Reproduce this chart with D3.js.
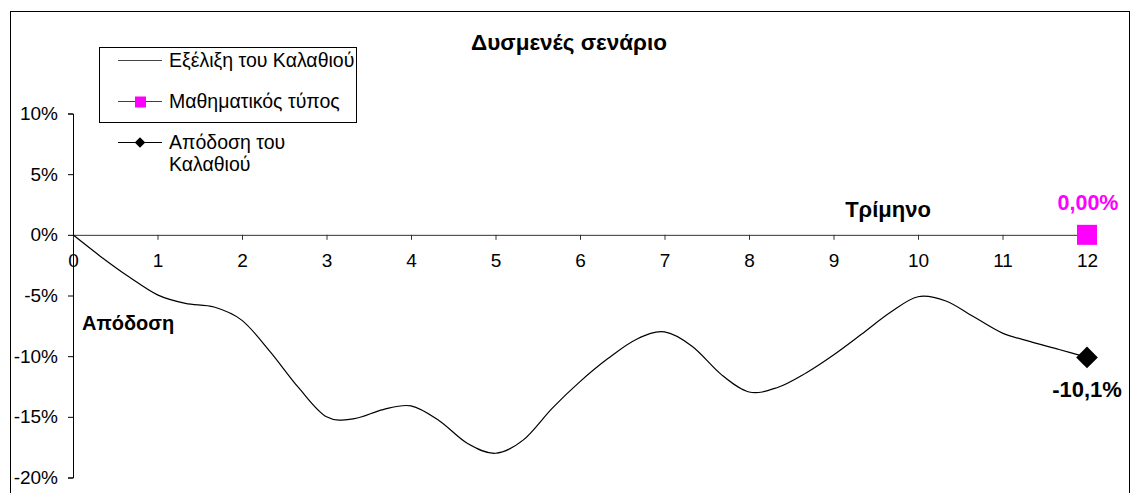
<!DOCTYPE html>
<html>
<head>
<meta charset="utf-8">
<script src="https://cdn.jsdelivr.net/npm/d3@7"></script>
<style>
  body { margin: 0; background: #fff; }
  text { font-family: "Liberation Sans", Arial, sans-serif; }
</style>
</head>
<body>
<div id="chart"></div>
<script>
// chart values
var quarters = [0, 0.33, 0.67, 1, 1.33, 1.67, 2, 2.33, 2.67, 3, 3.33, 3.67, 4, 4.33, 4.67, 5,
  5.33, 5.67, 6, 6.33, 6.67, 7, 7.33, 7.67, 8, 8.33, 8.67, 9, 9.33, 9.67, 10,
  10.33, 10.67, 11, 11.33, 11.67, 12];
var basketReturn = [0, -0.018, -0.035, -0.0495, -0.0565, -0.0595, -0.0705, -0.096, -0.126, -0.150, -0.1515, -0.144, -0.141, -0.153, -0.172, -0.180,
  -0.169, -0.143, -0.121, -0.102, -0.086, -0.080, -0.092, -0.115, -0.1295, -0.126, -0.114, -0.099, -0.082, -0.064, -0.051,
  -0.0545, -0.068, -0.081, -0.088, -0.0945, -0.101];
var xTicks = [0, 1, 2, 3, 4, 5, 6, 7, 8, 9, 10, 11, 12];
var yTicks = [-0.20, -0.15, -0.10, -0.05, 0, 0.05, 0.10];
var formulaPoint = { q: 12, v: 0.0, label: "0,00%" };
var finalPoint = { q: 12, v: -0.101, label: "-10,1%" };
var legendNames = ["Εξέλιξη του Καλαθιού", "Μαθηματικός τύπος", "Απόδοση του Καλαθιού"];

var svgWidth = 1131;
var svgHeight = 493;

var svg = d3.select("#chart")
  .append("svg")
  .attr("width", svgWidth)
  .attr("height", svgHeight);

// outer chart area border
svg.append("rect")
  .attr("x", 10.5).attr("y", 11.5)
  .attr("width", 1119).attr("height", 500)
  .attr("fill", "none").attr("stroke", "#000").attr("stroke-width", 1);

var x = d3.scaleLinear().domain([0, 12]).range([73, 1087]);
var y = d3.scaleLinear().domain([-0.2, 0.1]).range([477.5, 113.5]);

// y axis
var leftAxis = d3.axisLeft(y)
  .tickValues(yTicks)
  .tickSize(5)
  .tickPadding(10)
  .tickFormat(d => Math.round(d * 100) + "%");
var gy = svg.append("g")
  .attr("transform", `translate(${x(0)},0)`)
  .call(leftAxis);
gy.select(".domain").attr("stroke", "#000");
gy.selectAll("text").attr("font-size", 19).attr("fill", "#000")
  .attr("font-family", "Liberation Sans, Arial, sans-serif");

// x axis crossing at 0%
var bottomAxis = d3.axisBottom(x)
  .tickValues(xTicks)
  .tickSize(5)
  .tickSizeOuter(0)
  .tickPadding(14);
var gx = svg.append("g")
  .attr("transform", `translate(0,${y(0)})`)
  .call(bottomAxis);
gx.select(".domain").attr("stroke", "#333");
gx.selectAll("line").attr("stroke", "#333");
gx.selectAll("text").attr("font-size", 19).attr("fill", "#000")
  .attr("font-family", "Liberation Sans, Arial, sans-serif");

// basket curve
var line = d3.line()
  .x((d, i) => x(quarters[i]))
  .y(d => y(d))
  .curve(d3.curveCatmullRom.alpha(0));
svg.append("path")
  .datum(basketReturn)
  .attr("d", line)
  .attr("fill", "none")
  .attr("stroke", "#000")
  .attr("stroke-width", 1.2);

// formula point (magenta square)
svg.append("rect")
  .attr("x", x(formulaPoint.q) - 10).attr("y", y(formulaPoint.v) - 10)
  .attr("width", 20).attr("height", 20)
  .attr("fill", "#ff00ff");
svg.append("text")
  .attr("x", x(formulaPoint.q) + 1).attr("y", y(formulaPoint.v) - 25)
  .attr("text-anchor", "middle")
  .attr("font-size", 21.5).attr("font-weight", "bold").attr("fill", "#ff00ff")
  .text(formulaPoint.label);

// final basket return (black diamond)
svg.append("path")
  .attr("d", d3.symbol().type(d3.symbolDiamond2).size(300)())
  .attr("transform", `translate(${x(finalPoint.q)},${y(finalPoint.v)})`)
  .attr("fill", "#000");
svg.append("text")
  .attr("x", x(finalPoint.q)).attr("y", y(finalPoint.v) + 40)
  .attr("text-anchor", "middle")
  .attr("font-size", 22).attr("font-weight", "bold").attr("fill", "#000")
  .text(finalPoint.label);

// titles
svg.append("text")
  .attr("x", 569).attr("y", 50)
  .attr("text-anchor", "middle")
  .attr("font-size", 22.5).attr("font-weight", "bold")
  .text("Δυσμενές σενάριο");
svg.append("text")
  .attr("x", 888).attr("y", 217)
  .attr("text-anchor", "middle")
  .attr("font-size", 22).attr("font-weight", "bold")
  .text("Τρίμηνο");
svg.append("text")
  .attr("x", 82).attr("y", 330)
  .attr("font-size", 20).attr("font-weight", "bold")
  .text("Απόδοση");

// legend
var legend = svg.append("g");
legend.append("rect")
  .attr("x", 99.5).attr("y", 47.5)
  .attr("width", 257).attr("height", 75)
  .attr("fill", "#fff").attr("stroke", "#000");

legend.append("line")
  .attr("x1", 118).attr("x2", 162).attr("y1", 60.5).attr("y2", 60.5)
  .attr("stroke", "#444").attr("stroke-width", 1);
legend.append("text").attr("x", 169).attr("y", 67)
  .attr("font-size", 19.5).text(legendNames[0]);

legend.append("line")
  .attr("x1", 118).attr("x2", 162).attr("y1", 101.5).attr("y2", 101.5)
  .attr("stroke", "#3333aa").attr("stroke-width", 1);
legend.append("rect")
  .attr("x", 135).attr("y", 96.5).attr("width", 11).attr("height", 11)
  .attr("fill", "#ff00ff");
legend.append("text").attr("x", 169).attr("y", 108)
  .attr("font-size", 19.5).text(legendNames[1]);

legend.append("line")
  .attr("x1", 118).attr("x2", 162).attr("y1", 142.5).attr("y2", 142.5)
  .attr("stroke", "#000").attr("stroke-width", 1);
legend.append("path")
  .attr("d", d3.symbol().type(d3.symbolDiamond2).size(70)())
  .attr("transform", "translate(140,142.5)")
  .attr("fill", "#000");
var t3 = legend.append("text").attr("x", 169).attr("y", 149).attr("font-size", 19.5);
t3.append("tspan").attr("x", 169).text("Απόδοση του");
t3.append("tspan").attr("x", 169).attr("dy", 22).text("Καλαθιού");
</script>
</body>
</html>
